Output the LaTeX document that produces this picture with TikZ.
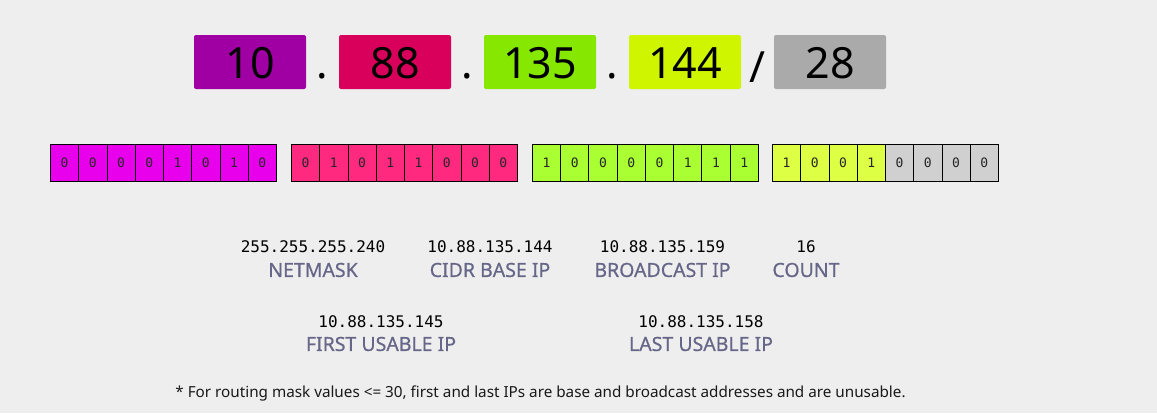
\documentclass[tikz,border=0pt]{standalone}
\usepackage{fontspec}
\setmainfont{Noto Sans}
\newfontfamily\monof{DejaVu Sans Mono}
\newfontfamily\labf[FakeBold=0.6]{Noto Sans}
\definecolor{bg}{HTML}{EEEEEE}
\definecolor{tA}{HTML}{A000A3}
\definecolor{tB}{HTML}{D8005A}
\definecolor{tC}{HTML}{86E800}
\definecolor{tD}{HTML}{D0F500}
\definecolor{tE}{HTML}{AAAAAA}
\definecolor{bA}{HTML}{E800EC}
\definecolor{bB}{HTML}{FF2A80}
\definecolor{bC}{HTML}{AAFF33}
\definecolor{bD}{HTML}{DDFF44}
\definecolor{bE}{HTML}{D0D0D0}
\definecolor{labc}{HTML}{666688}
\tikzset{
  topbox/.style={rectangle, rounded corners=2pt, minimum width=112pt, minimum height=54pt, inner sep=0pt},
  topnum/.style={inner sep=0pt, font=\fontsize{43}{43}\selectfont, text=black},
  sep/.style={inner sep=0pt, font=\fontsize{43}{43}\selectfont, text=black},
  bitcell/.style={rectangle, draw=black, line width=1pt, minimum width=28.25pt, minimum height=37pt, inner sep=0pt, font=\monof\fontsize{13}{13}\selectfont, text=black!85},
  val/.style={inner sep=0pt, font=\monof\fontsize{16}{16}\selectfont, text=black},
  lab/.style={inner sep=0pt, font=\labf\fontsize{19.5}{19.5}\selectfont, text=labc},
  foot/.style={inner sep=0pt, font=\fontsize{15.25}{16}\selectfont, text=black!90}
}
\newcommand\bitrow[3]{%
  \foreach \b/\c [count=\k from 0] in {#3} {
    \node[bitcell, fill=\c] (#1-\k) at ({#2+28.25*\k+14.125},162.5) {\b};
  }}
\begin{document}
\begin{tikzpicture}[x=1pt,y=-1pt]
\useasboundingbox[fill=bg] (0,0) rectangle (1157,413);
% top boxes
\foreach \i/\v/\c in {0/10/tA,1/88/tB,2/135/tC,3/144/tD,4/28/tE} {
  \node[topbox, fill=\c] (box\i) at ({250+145*\i},62) {};
  \node[topnum] (num\i) at ({250+145*\i},63.5) {\v};
}
\node[sep] (dot1) at (322.5,76) {.};
\node[sep] (dot2) at (467.5,76) {.};
\node[sep] (dot3) at (612.5,76) {.};
\node[sep] (slash) at (757,67) {/};
% bit rows
\bitrow{ra}{50.5}{0/bA,0/bA,0/bA,0/bA,1/bA,0/bA,1/bA,0/bA}
\bitrow{rb}{291.5}{0/bB,1/bB,0/bB,1/bB,1/bB,0/bB,0/bB,0/bB}
\bitrow{rc}{532.3}{1/bC,0/bC,0/bC,0/bC,0/bC,1/bC,1/bC,1/bC}
\bitrow{rd}{772.5}{1/bD,0/bD,0/bD,1/bD,0/bE,0/bE,0/bE,0/bE}
% values and labels
\node[val] (v1) at (313,247) {255.255.255.240};
\node[lab] (l1) at (313,270) {NETMASK};
\node[val] (v2) at (490,247) {10.88.135.144};
\node[lab] (l2) at (490,270) {CIDR BASE IP};
\node[val] (v3) at (662.5,247) {10.88.135.159};
\node[lab] (l3) at (662.5,270) {BROADCAST IP};
\node[val] (v4) at (806,247) {16};
\node[lab] (l4) at (806,270) {COUNT};
\node[val] (v5) at (381,322) {10.88.135.145};
\node[lab] (l5) at (381,344) {FIRST USABLE IP};
\node[val] (v6) at (701,322) {10.88.135.158};
\node[lab] (l6) at (701,344) {LAST USABLE IP};
\node[foot] (fn) at (540.5,393) {* For routing mask values <= 30, first and last IPs are base and broadcast addresses and are unusable.};
\end{tikzpicture}
\end{document}
